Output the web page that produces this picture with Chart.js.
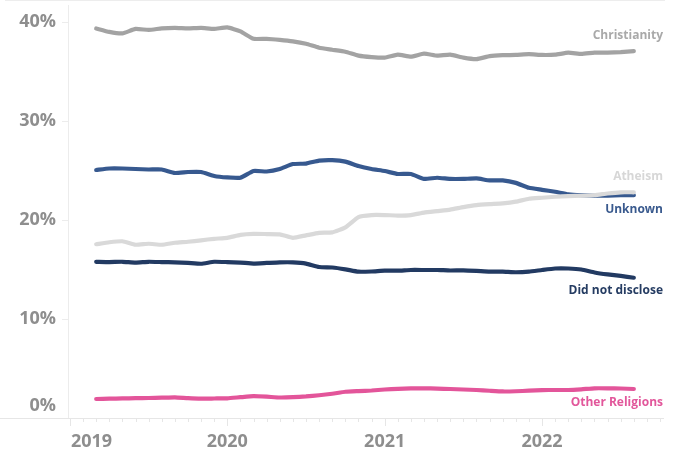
<!DOCTYPE html>
<html>
<head>
<meta charset="utf-8">
<script src="https://cdn.jsdelivr.net/npm/chart.js@4/dist/chart.umd.min.js"></script>
<style>
  html, body { margin: 0; padding: 0; background: #ffffff; }
  canvas { display: block; }
</style>
</head>
<body>
<canvas id="c" width="680" height="454"></canvas>
<script>
// ---- Data (share of users, %) ----
const months = [
  '2019-03','2019-04','2019-05','2019-06','2019-07','2019-08','2019-09','2019-10','2019-11','2019-12',
  '2020-01','2020-02','2020-03','2020-04','2020-05','2020-06','2020-07','2020-08','2020-09','2020-10','2020-11','2020-12',
  '2021-01','2021-02','2021-03','2021-04','2021-05','2021-06','2021-07','2021-08','2021-09','2021-10','2021-11','2021-12',
  '2022-01','2022-02','2022-03','2022-04','2022-05','2022-06','2022-07','2022-08'
];
const christianity = [39.35,39.0,38.85,39.3,39.2,39.35,39.4,39.35,39.4,39.3,
  39.45,39.05,38.3,38.3,38.2,38.05,37.8,37.4,37.2,37.0,36.6,36.45,
  36.4,36.7,36.5,36.8,36.6,36.7,36.4,36.25,36.55,36.65,36.67,36.75,
  36.67,36.7,36.9,36.78,36.9,36.9,36.95,37.05];
const unknown = [25.05,25.2,25.2,25.15,25.1,25.1,24.75,24.85,24.85,24.45,
  24.3,24.27,24.95,24.9,25.15,25.65,25.7,26.0,26.05,25.9,25.45,25.15,
  24.95,24.65,24.65,24.15,24.27,24.15,24.15,24.2,24.0,24.0,23.75,23.25,
  23.05,22.85,22.6,22.5,22.45,22.45,22.5,22.5];
const atheism = [17.55,17.75,17.85,17.5,17.6,17.5,17.7,17.8,17.95,18.1,
  18.2,18.5,18.6,18.58,18.55,18.2,18.45,18.7,18.75,19.25,20.3,20.5,
  20.5,20.45,20.5,20.75,20.9,21.05,21.3,21.5,21.6,21.68,21.85,22.15,
  22.25,22.35,22.42,22.45,22.5,22.68,22.8,22.8];
const didNotDisclose = [15.78,15.75,15.78,15.7,15.78,15.75,15.72,15.66,15.58,15.78,
  15.75,15.7,15.6,15.66,15.72,15.72,15.6,15.25,15.2,15.02,14.78,14.8,
  14.88,14.88,14.95,14.95,14.95,14.9,14.92,14.86,14.78,14.78,14.72,14.78,
  14.95,15.1,15.1,15.0,14.7,14.5,14.35,14.17];
const otherReligions = [1.92,1.95,1.98,2.0,2.02,2.05,2.09,2.0,1.95,1.97,
  1.99,2.1,2.2,2.15,2.07,2.1,2.18,2.3,2.45,2.65,2.72,2.78,
  2.88,2.95,3.0,3.0,2.97,2.93,2.88,2.83,2.75,2.68,2.7,2.76,
  2.82,2.83,2.83,2.9,3.0,3.0,2.98,2.93];
const seriesNames = ['Christianity','Atheism','Unknown','Did not disclose','Other Religions'];
const yTicks = [0, 10, 20, 30, 40];
const yearTicks = [2019, 2020, 2021, 2022];

// ---- helpers ----
const monthPos = m => { const [y, mo] = m.split('-').map(Number); return (y - 2019) * 12 + (mo - 1); };
const toPoints = arr => arr.map((v, i) => ({ x: monthPos(months[i]), y: v }));

const styles = {
  'Christianity':     { color: '#a3a3a3', labelColor: '#a9a9a9', dy: -16 },
  'Atheism':          { color: '#d9d9d9', labelColor: '#d7d7d7', dy: -16 },
  'Unknown':          { color: '#37598f', labelColor: '#3a5a8e', dy: 14 },
  'Did not disclose': { color: '#223a62', labelColor: '#253c62', dy: 13 },
  'Other Religions':  { color: '#e3559a', labelColor: '#e2579b', dy: 14 }
};
const seriesData = {
  'Christianity': christianity,
  'Atheism': atheism,
  'Unknown': unknown,
  'Did not disclose': didNotDisclose,
  'Other Religions': otherReligions
};
const drawOrder = ['Christianity','Atheism','Unknown','Did not disclose','Other Religions'];

const FONT = '"Open Sans", "Noto Sans", sans-serif';

const axesPlugin = {
  id: 'axesPlugin',
  beforeDatasetsDraw(chart) {
    const ctx = chart.ctx, xs = chart.scales.x, ys = chart.scales.y, a = chart.chartArea;
    ctx.save();
    // top border
    ctx.strokeStyle = '#ededed'; ctx.lineWidth = 1;
    ctx.beginPath(); ctx.moveTo(5, 0.5); ctx.lineTo(a.right + 1, 0.5); ctx.stroke();
    // left axis line
    ctx.strokeStyle = '#ececec';
    ctx.beginPath(); ctx.moveTo(a.left + 0.5, 5); ctx.lineTo(a.left + 0.5, a.bottom); ctx.stroke();
    // y ticks
    yTicks.forEach(t => {
      const y = Math.round(ys.getPixelForValue(t)) + 0.5;
      ctx.beginPath(); ctx.moveTo(a.left - 6, y); ctx.lineTo(a.left, y); ctx.stroke();
    });
    // bottom axis line
    ctx.strokeStyle = '#e6e6e6';
    ctx.beginPath(); ctx.moveTo(0, a.bottom + 0.5); ctx.lineTo(a.right, a.bottom + 0.5); ctx.stroke();
    // month ticks
    for (let m = 0; m <= 45; m++) {
      const x = Math.round(xs.getPixelForValue(m)) + 0.5;
      if (x < a.left || x > a.right) continue;
      const len = (m % 12 === 0) ? 8 : 4;
      ctx.beginPath(); ctx.moveTo(x, a.bottom); ctx.lineTo(x, a.bottom + len); ctx.stroke();
    }
    ctx.restore();
  },
  afterDraw(chart) {
    const ctx = chart.ctx, xs = chart.scales.x, ys = chart.scales.y, a = chart.chartArea;
    ctx.save();
    // y labels
    ctx.fillStyle = '#8e8e8e';
    ctx.font = `bold 18px ${FONT}`;
    ctx.textAlign = 'right'; ctx.textBaseline = 'middle';
    yTicks.forEach(t => {
      let y = ys.getPixelForValue(t);
      if (t === 0) y -= 12;
      ctx.fillText(t + '%', a.left - 12, y);
    });
    // year labels
    ctx.textBaseline = 'middle';
    yearTicks.forEach(yr => {
      const x = xs.getPixelForValue((yr - 2019) * 12);
      if (yr === 2019) { ctx.textAlign = 'left'; ctx.fillText(String(yr), x + 1, a.bottom + 24); }
      else { ctx.textAlign = 'center'; ctx.fillText(String(yr), x, a.bottom + 24); }
    });
    // series end labels
    ctx.font = `bold 12px ${FONT}`;
    ctx.textAlign = 'right';
    seriesNames.forEach(name => {
      const arr = seriesData[name];
      const y = ys.getPixelForValue(arr[arr.length - 1]) + styles[name].dy;
      ctx.fillStyle = styles[name].labelColor;
      ctx.fillText(name, a.right - 1, y);
    });
    ctx.restore();
  }
};

new Chart(document.getElementById('c'), {
  type: 'line',
  data: {
    datasets: drawOrder.map(name => ({
      label: name,
      data: toPoints(seriesData[name]),
      borderColor: styles[name].color,
      backgroundColor: styles[name].color,
      borderWidth: 4.2,
      pointRadius: 0,
      tension: 0.15,
      borderCapStyle: 'round',
      borderJoinStyle: 'round',
      fill: false
    }))
  },
  options: {
    responsive: false,
    devicePixelRatio: 1,
    animation: false,
    layout: { padding: { left: 68, right: 16, top: 2, bottom: 36 } },
    plugins: { legend: { display: false }, tooltip: { enabled: false } },
    scales: {
      x: { type: 'linear', min: -0.15, max: 45.3, display: false },
      y: { type: 'linear', min: 0, max: 42.02, display: false }
    }
  },
  plugins: [axesPlugin]
});
</script>
</body>
</html>
